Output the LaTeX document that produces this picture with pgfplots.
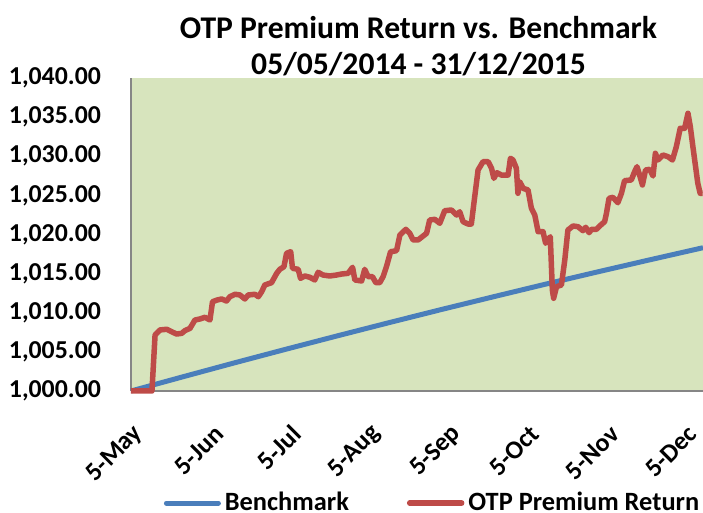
\documentclass[border=0pt]{standalone}
\usepackage{pgfplots}
\pgfplotsset{compat=1.18}
\usepackage{fontspec}
\setmainfont{Carlito}

\definecolor{bench}{RGB}{74,126,187}
\definecolor{otp}{RGB}{190,75,72}
\definecolor{plotbg}{RGB}{215,228,189}
\definecolor{axgray}{RGB}{134,134,134}

\begin{document}
\begin{tikzpicture}
\path[use as bounding box] (-65.5pt,-61pt) rectangle (286pt,195.5pt);
\begin{axis}[
    name=ax,
    at={(0pt,0pt)}, anchor=south west,
    scale only axis,
    width=286pt, height=156.5pt,
    xmin=0, xmax=221,
    ymin=1000, ymax=1040,
    ytick={1000,1005,...,1040},
    xtick={0,31,61,92,123,153,184,214},
    xticklabels={5-May,5-Jun,5-Jul,5-Aug,5-Sep,5-Oct,5-Nov,5-Dec},
    axis x line*=bottom,
    axis y line*=left,
    axis line style={draw=axgray, line width=0.6pt},
    major tick length=0pt,
    axis background/.style={fill=plotbg},
    clip=false,
    /pgf/number format/assume math mode=true,
    yticklabel style={/pgf/number format/fixed, /pgf/number format/fixed zerofill,
        /pgf/number format/precision=2, /pgf/number format/1000 sep={,},
        anchor=east, xshift=-11.5pt},
    tick label style={font=\bfseries\fontsize{12.9}{15}\selectfont},
    xticklabel style={xshift=6.4pt, yshift=-17pt, rotate=45, anchor=east},
    legend columns=2,
    legend style={at={(0.529,-0.358)}, anchor=center, draw=none, fill=none,
        font=\bfseries\fontsize{13.2}{15}\selectfont,
        /tikz/every even column/.append style={column sep=27pt}},
    legend image code/.code={\draw[#1, line cap=round] (0pt,0pt) -- (26pt,0pt);},
]
% Benchmark
\addplot[color=bench, line width=2.5pt] coordinates {
    (0,1000.00) (20,1001.81) (40,1003.60) (60,1005.35) (80,1007.07)
    (100,1008.76) (120,1010.42) (140,1012.04) (160,1013.64) (180,1015.20)
    (200,1016.73) (221,1018.31)
};
\addlegendentry{Benchmark}
% OTP Premium Return
\addplot[color=otp, line width=2.75pt, line join=round] coordinates {
    (0,1000.00) (8.1,1000.00) (9.3,1007.16) (11.2,1007.80) (13.8,1007.89)
    (15.7,1007.58) (17.6,1007.28) (19.6,1007.37) (20.8,1007.71) (22.8,1008.01)
    (24.7,1009.07) (26.6,1009.20) (28.6,1009.42) (30.5,1009.07) (31.5,1011.41)
    (33.3,1011.63) (35.0,1011.76) (36.9,1011.50) (38.2,1012.05) (40.2,1012.36)
    (42.1,1012.27) (44.0,1011.76) (45.3,1012.27) (47.9,1012.36) (49.2,1012.05)
    (50.5,1012.69) (51.7,1013.55) (54.3,1013.84) (56.3,1015.04) (57.5,1015.55)
    (59.1,1015.88) (60.1,1017.60) (61.7,1017.80) (62.4,1015.68) (64.6,1015.55)
    (65.5,1014.40) (67.2,1014.70) (69.1,1014.53) (71.0,1014.19) (72.3,1015.17)
    (74.2,1014.82) (76.8,1014.70) (79.4,1014.82) (81.4,1014.95) (83.9,1015.04)
    (85.6,1015.81) (86.5,1014.19) (89.1,1014.06) (90.3,1015.55) (91.6,1014.61)
    (93.3,1014.61) (94.6,1013.84) (96.1,1013.84) (97.4,1014.61) (98.7,1015.89)
    (100.3,1017.80) (102.6,1017.93) (103.9,1019.94) (106.2,1020.66) (107.7,1020.15)
    (109.0,1019.30) (110.9,1019.30) (114.2,1020.15) (115.4,1021.85) (117.4,1021.94)
    (119.3,1021.43) (121.2,1023.04) (123.8,1023.13) (125.8,1022.49) (127.0,1022.91)
    (128.3,1021.64) (130.2,1021.34) (131.5,1021.34) (132.8,1024.83) (134.1,1028.24)
    (136.0,1029.30) (138.0,1029.30) (139.3,1028.46) (140.2,1027.18) (141.4,1027.90)
    (143.1,1027.60) (145.7,1027.60) (146.6,1029.74) (147.6,1029.52) (148.9,1028.46)
    (149.5,1025.27) (150.2,1026.75) (151.5,1025.90) (153.4,1025.69) (154.7,1023.35)
    (156.0,1022.49) (157.3,1020.36) (159.2,1020.36) (160.2,1018.88) (161.1,1019.30)
    (162.0,1019.72) (162.8,1012.91) (163.3,1011.85) (164.4,1013.33) (166.3,1013.55)
    (167.6,1016.74) (168.8,1020.57) (170.8,1021.09) (172.7,1021.00) (174.6,1020.49)
    (175.7,1020.92) (177.0,1020.23) (177.9,1020.66) (179.8,1020.66) (181.1,1021.09)
    (183.0,1021.64) (183.7,1022.71) (184.7,1024.63) (186.2,1024.75) (188.1,1024.06)
    (189.5,1025.27) (190.7,1026.88) (193.3,1026.97) (194.6,1028.04) (195.5,1028.67)
    (196.5,1027.60) (197.6,1026.33) (198.8,1028.24) (200.4,1028.33) (201.7,1027.48)
    (202.6,1030.38) (203.6,1029.52) (205.5,1030.16) (207.5,1029.94) (209.2,1029.52)
    (210.7,1031.22) (212.2,1033.57) (213.9,1033.57) (215.2,1035.49) (216.1,1033.78)
    (217.1,1031.22) (219.0,1026.54) (219.9,1025.27) (220.9,1025.27)
};
\addlegendentry{OTP Premium Return}
\end{axis}
\node[anchor=base, font=\bfseries\fontsize{15.8}{19}\selectfont] at (143.75pt,176pt) {OTP Premium Return vs. Benchmark};
\node[anchor=base, font=\bfseries\fontsize{15.8}{19}\selectfont] at (143.75pt,158pt) {05/05/2014 - 31/12/2015};
\end{tikzpicture}
\end{document}
